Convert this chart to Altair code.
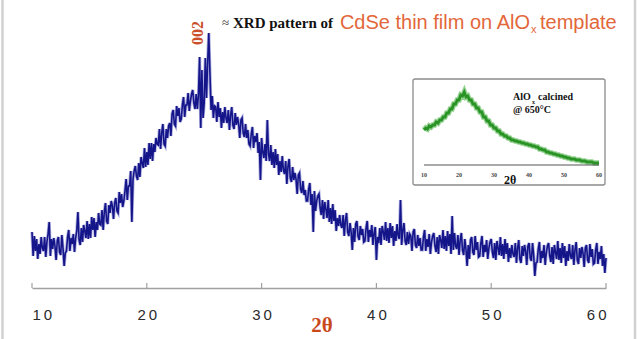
import altair as alt
import pandas as pd

# ---------------- data ----------------
# main XRD pattern: 2theta from 10.0 to 60.0 in 0.1 steps, intensity in a.u.
intensity = [
    56, 32, 52, 37, 49, 29, 44, 34, 51, 40,
    37, 51, 31, 46, 54, 66, 32, 49, 39, 50,
    42, 28, 47, 51, 36, 33, 53, 40, 22, 35,
    37, 51, 58, 37, 50, 44, 54, 36, 50, 57,
    76, 48, 43, 60, 46, 63, 57, 50, 67, 49,
    64, 50, 71, 58, 70, 51, 66, 58, 75, 64,
    63, 78, 58, 76, 85, 67, 64, 83, 75, 87,
    82, 69, 85, 90, 77, 75, 96, 85, 94, 81,
    87, 97, 109, 88, 102, 102, 117, 66, 109, 117,
    122, 112, 108, 125, 111, 131, 125, 120, 140, 121,
    136, 123, 145, 129, 145, 127, 144, 136, 150, 144,
    143, 159, 139, 155, 164, 144, 142, 159, 150, 162,
    165, 152, 174, 178, 164, 162, 182, 172, 180, 166,
    169, 183, 191, 171, 183, 183, 195, 177, 187, 194,
    198, 185, 179, 194, 179, 193, 231, 160, 218, 170,
    185, 230, 190, 225, 255, 215, 178, 192, 170, 182,
    181, 166, 186, 171, 180, 160, 176, 165, 181, 170,
    165, 178, 158, 173, 181, 163, 159, 175, 163, 171,
    164, 150, 168, 170, 155, 151, 164, 150, 158, 144,
    142, 154, 161, 140, 152, 146, 155, 135, 146, 108,
    150, 136, 130, 144, 127, 168, 134, 127, 143, 123,
    136, 120, 139, 123, 134, 113, 127, 116, 132, 118,
    114, 127, 104, 122, 129, 110, 106, 121, 108, 115,
    109, 94, 113, 115, 99, 95, 107, 93, 98, 87,
    87, 99, 105, 83, 94, 56, 97, 77, 87, 92,
    94, 80, 73, 88, 69, 86, 79, 70, 88, 66,
    80, 64, 84, 67, 78, 57, 70, 62, 73, 63,
    60, 73, 52, 68, 75, 56, 52, 65, 56, 38,
    60, 46, 64, 67, 52, 48, 62, 53, 59, 46,
    47, 60, 67, 46, 58, 51, 63, 43, 55, 61,
    28, 51, 45, 60, 43, 62, 56, 48, 66, 47,
    60, 45, 65, 50, 62, 42, 57, 47, 64, 52,
    49, 88, 43, 58, 65, 47, 43, 56, 44, 54,
    52, 37, 56, 59, 43, 40, 53, 42, 50, 38,
    38, 51, 58, 37, 49, 41, 54, 34, 46, 52,
    55, 42, 36, 51, 34, 53, 48, 40, 58, 39,
    52, 37, 57, 42, 54, 34, 72, 38, 55, 42,
    39, 53, 33, 48, 55, 38, 33, 49, 39, 22,
    43, 29, 48, 51, 36, 33, 52, 38, 46, 31,
    32, 45, 52, 31, 43, 36, 48, 29, 40, 46,
    49, 36, 30, 45, 28, 47, 40, 33, 51, 32,
    44, 29, 49, 34, 45, 26, 40, 30, 43, 34,
    31, 45, 25, 40, 48, 29, 25, 42, 32, 43,
    37, 23, 42, 45, 30, 27, 45, 33, 12, 25,
    26, 39, 46, 25, 37, 30, 43, 23, 35, 42,
    45, 32, 26, 41, 24, 43, 36, 29, 47, 28,
    40, 25, 45, 30, 42, 22, 37, 27, 44, 32,
    29, 43, 23, 38, 46, 28, 24, 40, 30, 41,
    35, 21, 40, 43, 28, 25, 44, 31, 39, 24,
    25, 38, 45, 24, 36, 29, 42, 22, 34, 15,
    30,
]
two_theta = [round(10 + 0.1 * i, 1) for i in range(len(intensity))]

# inset: AlOx calcined @ 650 C, 2theta 10..60 in 0.5 steps
inset_intensity = [
    35, 37, 36, 39, 38, 40, 40, 43, 42, 45,
    45, 48, 48, 52, 52, 56, 56, 61, 61, 65,
    65, 70, 69, 73, 68, 69, 65, 65, 61, 61,
    57, 57, 53, 53, 48, 48, 44, 44, 40, 40,
    37, 37, 34, 34, 31, 31, 29, 29, 27, 27,
    25, 25, 24, 24, 23, 23, 22, 22, 21, 21,
    20, 20, 19, 19, 18, 18, 16, 16, 15, 15,
    13, 13, 12, 12, 11, 11, 10, 10, 9, 9,
    8, 8, 7, 7, 6, 6, 6, 5, 5, 5,
    4, 4, 4, 3, 3, 3, 3, 2, 2, 2,
    2,
]
inset_two_theta = [10 + 0.5 * i for i in range(len(inset_intensity))]

tick_values = [10, 20, 30, 40, 50, 60]

W, H = 574, 288

main_df = pd.DataFrame({"two_theta": two_theta, "intensity": intensity})
inset_df = pd.DataFrame({"two_theta": inset_two_theta, "intensity": inset_intensity})
ticks_df = pd.DataFrame({"tick": tick_values, "label": [str(t) for t in tick_values]})
span_df = pd.DataFrame({"lo": [tick_values[0]], "hi": [tick_values[-1]]})
one = pd.DataFrame({"a": [0]})

x_main = alt.X(
    "two_theta:Q",
    scale=alt.Scale(domain=[10, 60], nice=False, zero=False),
    axis=alt.Axis(
        values=tick_values, title=None, grid=False, ticks=False,
        domainColor="#a0a0a0", domainWidth=1.3,
        labelFont="Liberation Sans", labelFontSize=15, labelColor="#2a2a2a",
        labelPadding=26, labelBaseline="middle",
        labelExpr="join(split(datum.label, ''), '\u2009')",
    ),
)
y_main = alt.Y("intensity:Q", scale=alt.Scale(domain=[0, 288], nice=False, zero=False), axis=None)

halo = alt.Chart(main_df).mark_line(color="#6a6ac4", strokeWidth=3.2, opacity=0.55).encode(x=x_main, y=y_main)
line = alt.Chart(main_df).mark_line(color="#15158a", strokeWidth=1.6).encode(x="two_theta:Q", y="intensity:Q")

tick_rules = alt.Chart(ticks_df).mark_rule(color="#a0a0a0", strokeWidth=1.2).encode(
    x=alt.X("tick:Q"),
    y=alt.value(H - 5), y2=alt.value(H),
)


def txt(text, x, y, size, color, font="Liberation Serif", weight="normal", align="left", angle=0, baseline="middle"):
    kw = dict(text=text, fontSize=size, color=color, font=font, fontWeight=weight, align=align, baseline=baseline)
    if angle:
        kw["angle"] = angle
    return alt.Chart(one).mark_text(**kw).encode(x=alt.value(x), y=alt.value(y))


def vrule(x):
    return alt.Chart(one).mark_rule(color="#d0d0d0", strokeWidth=2.5).encode(
        x=alt.value(x), y=alt.value(-2), y2=alt.value(341)
    )


box = alt.Chart(one).mark_rect(fill="white", stroke="#8c8c8c", strokeWidth=1.3, cornerRadius=2).encode(
    x=alt.value(381), x2=alt.value(573), y=alt.value(79), y2=alt.value(185)
)

texts = [
    txt("≈", 190, 23, 13, "#333333"),
    txt("XRD pattern of", 201, 23, 15, "#111111", weight="bold"),
    txt("CdSe thin film on AlO", 498, 23, 20, "#e2673a", font="Liberation Sans", align="right"),
    txt("x", 499, 30, 11, "#e2673a", font="Liberation Sans"),
    txt("template", 508, 23, 20, "#e2673a", font="Liberation Sans"),
    txt("002", 166, 33, 16, "#c9502a", weight="bold", align="center", angle=270),
    txt("2θ", 290, 326, 21, "#c9491d", weight="bold", align="center"),
    txt("2θ", 478, 180, 12, "#111111", weight="bold", align="center"),
    txt("AlO", 481, 97, 10, "#111111", weight="bold"),
    txt("x", 500, 102, 6, "#111111", weight="bold"),
    txt("calcined", 506, 97, 10, "#111111", weight="bold"),
    txt("@ 650°C", 481, 110, 10, "#111111", weight="bold"),
]

main = alt.layer(vrule(-29.5), vrule(603), box, halo, line, tick_rules, *texts)

# ---------------- inset ----------------
x_in = alt.Scale(domain=[10, 60], range=[392, 567], nice=False, zero=False)
y_in = alt.Scale(domain=[0, 86], range=[165, 79], nice=False, zero=False)

green_halo = alt.Chart(inset_df).mark_line(color="#7cc878", strokeWidth=5.5, opacity=0.8).encode(
    x=alt.X("two_theta:Q", scale=x_in, axis=None),
    y=alt.Y("intensity:Q", scale=y_in, axis=None),
)
green = alt.Chart(inset_df).mark_line(color="#2a9326", strokeWidth=2.8).encode(
    x="two_theta:Q", y="intensity:Q"
)
inset_axis = alt.Chart(span_df).mark_rule(color="#555555", strokeWidth=1).encode(
    x=alt.X("lo:Q"), x2="hi:Q", y=alt.value(165)
)
inset_labels = alt.Chart(ticks_df).mark_text(fontSize=6, color="#444444", font="Liberation Serif", fontWeight="bold").encode(
    x=alt.X("tick:Q"), y=alt.value(175), text="label:N"
)
inset = alt.layer(green_halo, green, inset_axis, inset_labels)

chart = (
    alt.layer(main, inset)
    .resolve_scale(x="independent", y="independent")
    .properties(
        width=W, height=H,
        padding={"left": 32, "right": 37, "top": 0, "bottom": 51},
        autosize=alt.AutoSizeParams(type="none"),
        background="white",
    )
    .configure_view(stroke=None)
)

chart.save("out.html", embed_options={"renderer": "svg", "actions": False})
